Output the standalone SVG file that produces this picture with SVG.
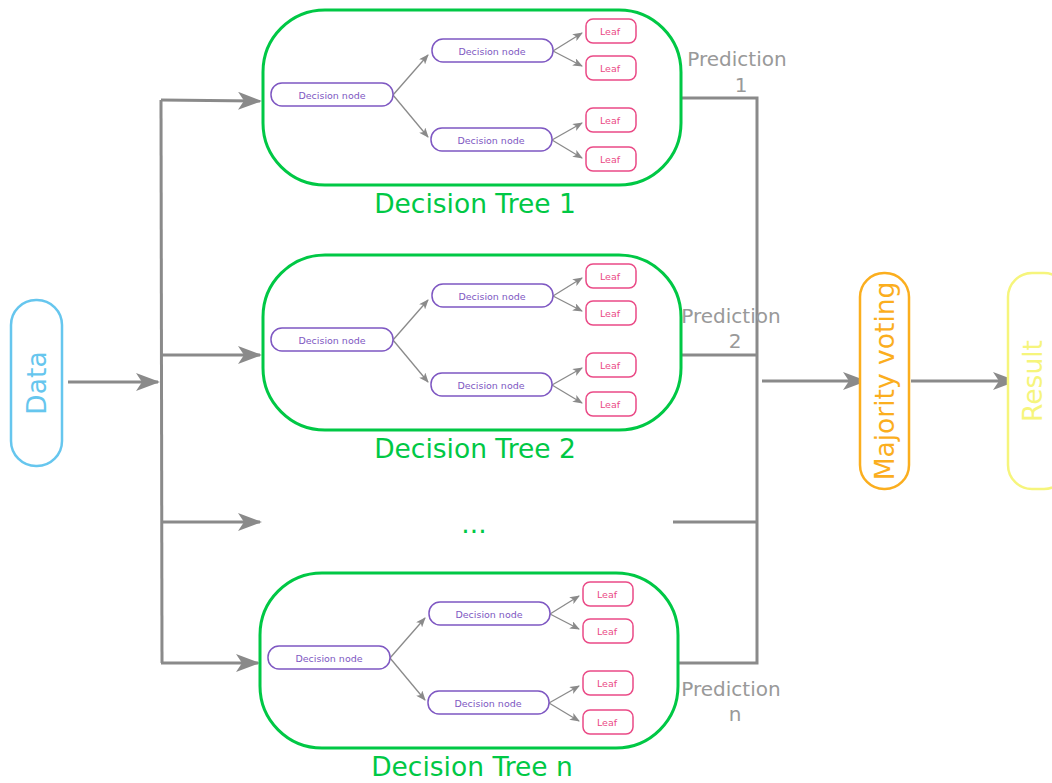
<svg xmlns="http://www.w3.org/2000/svg" width="1052" height="783" viewBox="0 0 1052 783">
  <style>
    .tree { fill: none; stroke: #00c845; stroke-width: 3; }
    .tlabel { fill: #00c845; font-family: "DejaVu Sans", sans-serif; font-size: 26.5px; text-anchor: middle; }
    .dn { fill: #ffffff; stroke: #7e57c2; stroke-width: 1.5; }
    .dnt { fill: #7e57c2; font-family: "DejaVu Sans", sans-serif; font-size: 9.5px; text-anchor: middle; }
    .lf { fill: #ffffff; stroke: #ea4a86; stroke-width: 1.5; }
    .lft { fill: #ea4a86; font-family: "DejaVu Sans", sans-serif; font-size: 9.5px; text-anchor: middle; }
    .edge { fill: none; stroke: #8a8a8a; stroke-width: 1.3; marker-end: url(#small); }
    .flow { fill: none; stroke: #8a8a8a; stroke-width: 3; }
    .arrow { marker-end: url(#big); }
    .pred { fill: #999999; font-family: "DejaVu Sans", sans-serif; font-size: 20px; text-anchor: middle; }
    .big { font-family: "DejaVu Sans", sans-serif; font-size: 26.5px; text-anchor: middle; }
  </style>
  <defs>
    <marker id="big" viewBox="0 0 24 18" refX="22" refY="9" markerWidth="24" markerHeight="18" markerUnits="userSpaceOnUse" orient="auto">
      <path d="M0,0 L24,9 L0,18 L6,9 z" fill="#8a8a8a"/>
    </marker>
    <marker id="small" viewBox="0 0 10 8" refX="9" refY="4" markerWidth="10" markerHeight="8" markerUnits="userSpaceOnUse" orient="auto">
      <path d="M0,0 L10,4 L0,8 L2.5,4 z" fill="#8a8a8a"/>
    </marker>
    <!-- one decision tree, drawn relative to its container's top-left corner -->
    <g id="treeBody">
      <rect class="tree" x="0" y="0" width="418" height="175" rx="62" ry="62"/>
      <path class="edge" d="M130,85 L165,45"/>
      <path class="edge" d="M130,85 L165,127"/>
      <path class="edge" d="M290,41 L319,23"/>
      <path class="edge" d="M290,41 L319,56"/>
      <path class="edge" d="M289,130 L319,113"/>
      <path class="edge" d="M289,130 L319,148"/>
      <rect class="dn" x="8" y="73" width="122" height="23" rx="11"/>
      <text class="dnt" x="69" y="88.5">Decision node</text>
      <rect class="dn" x="169" y="29" width="121" height="23" rx="11"/>
      <text class="dnt" x="229" y="44.5">Decision node</text>
      <rect class="dn" x="168" y="118" width="121" height="23" rx="11"/>
      <text class="dnt" x="228" y="133.5">Decision node</text>
      <rect class="lf" x="323" y="9" width="50" height="24" rx="7"/>
      <text class="lft" x="347" y="24.5">Leaf</text>
      <rect class="lf" x="323" y="46" width="50" height="24" rx="7"/>
      <text class="lft" x="347" y="61.5">Leaf</text>
      <rect class="lf" x="323" y="98" width="50" height="24" rx="7"/>
      <text class="lft" x="347" y="113.5">Leaf</text>
      <rect class="lf" x="323" y="137" width="50" height="24" rx="7"/>
      <text class="lft" x="347" y="152.5">Leaf</text>
    </g>
  </defs>

  <!-- connectors -->
  <g id="connectors">
    <path class="flow arrow" d="M68,382 L158,382"/>
    <path class="flow" d="M161,100 L162,663"/>
    <path class="flow arrow" d="M161,100 L260,101"/>
    <path class="flow arrow" d="M161,355 L260,355"/>
    <path class="flow arrow" d="M161,522 L260,522"/>
    <path class="flow arrow" d="M161,663 L258,663"/>
    <path class="flow" d="M681,98 L757,98 L757,663 L678,663"/>
    <path class="flow" d="M681,355 L757,355"/>
    <path class="flow" d="M673,522 L757,522"/>
    <path class="flow arrow" d="M762,381 L865,381"/>
    <path class="flow arrow" d="M911,381 L1015,381"/>
  </g>

  <!-- input -->
  <g id="data">
    <rect x="11" y="300" width="51" height="166" rx="25" fill="#ffffff" stroke="#66c6ee" stroke-width="2.5"/>
    <text class="big" transform="translate(46,383) rotate(-90)" fill="#66c6ee">Data</text>
  </g>

  <!-- trees -->
  <g id="tree1">
    <use href="#treeBody" transform="translate(263,10)"/>
    <text class="tlabel" x="475" y="213">Decision Tree 1</text>
  </g>
  <g id="tree2">
    <use href="#treeBody" transform="translate(263,255)"/>
    <text class="tlabel" x="475" y="458">Decision Tree 2</text>
  </g>
  <g id="ellipsis">
    <text class="tlabel" x="474" y="533">...</text>
  </g>
  <g id="treen">
    <use href="#treeBody" transform="translate(260,573)"/>
    <text class="tlabel" x="472" y="776">Decision Tree n</text>
  </g>

  <!-- prediction labels -->
  <g id="pred1">
    <text class="pred" x="737" y="66">Prediction</text>
    <text class="pred" x="741" y="92">1</text>
  </g>
  <g id="pred2">
    <text class="pred" x="731" y="323">Prediction</text>
    <text class="pred" x="735" y="348">2</text>
  </g>
  <g id="predn">
    <text class="pred" x="731" y="696">Prediction</text>
    <text class="pred" x="735" y="721">n</text>
  </g>

  <!-- voting and result -->
  <g id="voting">
    <rect x="860" y="273" width="49" height="216" rx="24" fill="#ffffff" stroke="#fbae1e" stroke-width="2.5"/>
    <text class="big" transform="translate(894,381) rotate(-90)" fill="#fbae1e">Majority voting</text>
  </g>
  <g id="result">
    <rect x="1008" y="273" width="60" height="216" rx="24" fill="#ffffff" stroke="#f6f57c" stroke-width="2.5"/>
    <text class="big" transform="translate(1042,381) rotate(-90)" fill="#f6f57c">Result</text>
  </g>
</svg>
